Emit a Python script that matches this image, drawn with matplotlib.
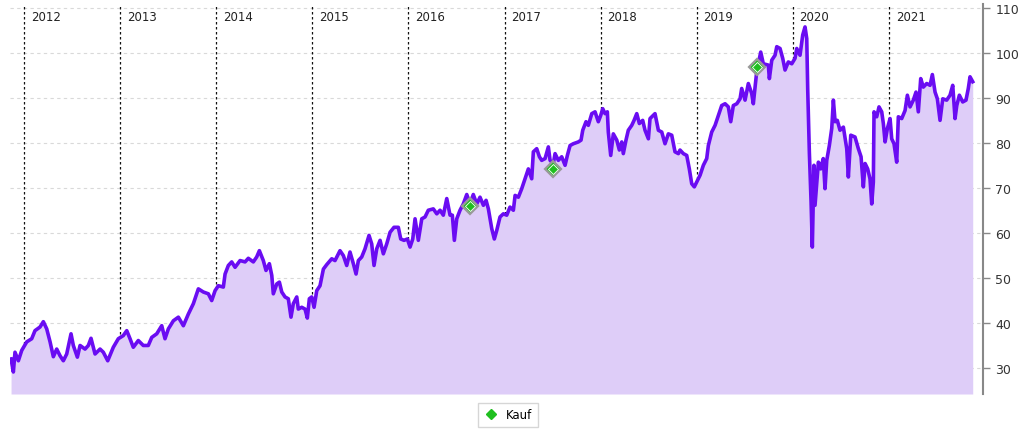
import matplotlib
matplotlib.use("Agg")
import matplotlib.pyplot as plt
from matplotlib.lines import Line2D

# ---- data (decimal years, price) ----
dates = [
    2011.865, 2011.889, 2011.906, 2011.941, 2011.976, 2012.028, 2012.080, 2012.114, 2012.166, 2012.201,
    2012.236, 2012.271, 2012.305, 2012.340, 2012.375, 2012.409, 2012.444, 2012.489, 2012.513, 2012.555,
    2012.583, 2012.635, 2012.669, 2012.697, 2012.739, 2012.791, 2012.825, 2012.871, 2012.929, 2012.981,
    2013.033, 2013.069, 2013.103, 2013.137, 2013.189, 2013.241, 2013.293, 2013.329, 2013.381, 2013.433,
    2013.467, 2013.502, 2013.554, 2013.606, 2013.658, 2013.710, 2013.762, 2013.814, 2013.866, 2013.918,
    2013.953, 2013.988, 2014.022, 2014.074, 2014.092, 2014.126, 2014.161, 2014.196, 2014.248, 2014.300,
    2014.334, 2014.386, 2014.421, 2014.449, 2014.490, 2014.518, 2014.553, 2014.578, 2014.594, 2014.630,
    2014.657, 2014.682, 2014.716, 2014.750, 2014.778, 2014.802, 2014.838, 2014.854, 2014.890, 2014.924,
    2014.948, 2014.969, 2014.994, 2015.018, 2015.046, 2015.080, 2015.115, 2015.150, 2015.202, 2015.236,
    2015.288, 2015.323, 2015.358, 2015.392, 2015.427, 2015.455, 2015.479, 2015.514, 2015.548, 2015.590,
    2015.618, 2015.642, 2015.670, 2015.705, 2015.739, 2015.774, 2015.809, 2015.850, 2015.895, 2015.920,
    2015.954, 2015.989, 2016.017, 2016.045, 2016.069, 2016.103, 2016.139, 2016.173, 2016.207, 2016.259,
    2016.295, 2016.329, 2016.363, 2016.399, 2016.433, 2016.457, 2016.478, 2016.503, 2016.537, 2016.571,
    2016.607, 2016.641, 2016.675, 2016.711, 2016.745, 2016.780, 2016.808, 2016.832, 2016.867, 2016.894,
    2016.919, 2016.953, 2016.988, 2017.023, 2017.057, 2017.092, 2017.110, 2017.144, 2017.179, 2017.213,
    2017.248, 2017.283, 2017.300, 2017.335, 2017.363, 2017.387, 2017.422, 2017.456, 2017.474, 2017.508,
    2017.526, 2017.560, 2017.595, 2017.630, 2017.654, 2017.682, 2017.716, 2017.768, 2017.796, 2017.814,
    2017.848, 2017.872, 2017.908, 2017.942, 2017.976, 2018.001, 2018.022, 2018.046, 2018.070, 2018.080,
    2018.105, 2018.132, 2018.168, 2018.195, 2018.220, 2018.236, 2018.264, 2018.288, 2018.324, 2018.348,
    2018.376, 2018.403, 2018.438, 2018.462, 2018.497, 2018.514, 2018.566, 2018.601, 2018.636, 2018.670,
    2018.705, 2018.740, 2018.774, 2018.809, 2018.826, 2018.861, 2018.896, 2018.923, 2018.948, 2018.975,
    2019.000, 2019.035, 2019.069, 2019.104, 2019.121, 2019.156, 2019.191, 2019.225, 2019.260, 2019.295,
    2019.329, 2019.354, 2019.381, 2019.417, 2019.451, 2019.468, 2019.503, 2019.537, 2019.572, 2019.589,
    2019.607, 2019.624, 2019.666, 2019.693, 2019.745, 2019.756, 2019.781, 2019.815, 2019.833, 2019.867,
    2019.895, 2019.919, 2019.953, 2019.989, 2020.023, 2020.041, 2020.075, 2020.103, 2020.127, 2020.145,
    2020.155, 2020.172, 2020.190, 2020.203, 2020.220, 2020.231, 2020.266, 2020.290, 2020.317, 2020.335,
    2020.353, 2020.380, 2020.405, 2020.422, 2020.440, 2020.463, 2020.491, 2020.526, 2020.561, 2020.578,
    2020.603, 2020.647, 2020.682, 2020.710, 2020.734, 2020.752, 2020.779, 2020.803, 2020.821, 2020.838,
    2020.845, 2020.873, 2020.897, 2020.925, 2020.942, 2020.960, 2020.984, 2021.012, 2021.029, 2021.053,
    2021.081, 2021.098, 2021.133, 2021.168, 2021.192, 2021.220, 2021.254, 2021.282, 2021.306, 2021.331,
    2021.358, 2021.393, 2021.428, 2021.452, 2021.480, 2021.504, 2021.532, 2021.560, 2021.601, 2021.636,
    2021.664, 2021.688, 2021.706, 2021.733, 2021.768, 2021.802, 2021.826, 2021.844, 2021.872,
]
prices = [
    32.0, 29.1, 33.5, 31.6, 33.9, 35.8, 36.5, 38.3, 39.1, 40.3,
    38.7, 35.8, 32.5, 34.2, 32.7, 31.6, 33.1, 37.6, 35.0, 32.4,
    35.0, 34.2, 35.0, 36.6, 33.1, 34.2, 33.5, 31.6, 34.6, 36.5,
    37.2, 38.3, 36.5, 34.6, 36.1, 35.0, 35.0, 36.8, 37.6, 39.4,
    36.5, 38.7, 40.5, 41.3, 39.4, 42.0, 44.3, 47.6, 46.9, 46.5,
    45.0, 47.2, 48.3, 48.0, 50.9, 52.8, 53.6, 52.4, 53.9, 53.6,
    54.4, 53.6, 54.7, 56.1, 53.9, 51.7, 53.2, 50.6, 46.5, 48.7,
    49.1, 46.9, 45.8, 45.4, 41.3, 44.3, 45.8, 43.1, 43.5, 43.1,
    41.1, 45.4, 45.8, 43.5, 47.2, 48.3, 52.0, 53.0, 54.3, 53.9,
    56.1, 55.0, 52.8, 55.8, 53.2, 50.9, 53.9, 54.7, 56.5, 59.5,
    57.6, 52.8, 56.5, 58.4, 55.4, 57.6, 60.2, 61.3, 61.3, 58.7,
    58.4, 58.7, 56.9, 58.7, 63.2, 58.4, 63.2, 63.6, 65.1, 65.4,
    64.3, 65.1, 64.0, 67.7, 64.0, 64.0, 58.4, 63.2, 65.1, 66.5,
    68.6, 66.5, 68.6, 66.5, 68.0, 66.2, 67.3, 65.4, 61.0, 58.7,
    60.6, 63.6, 64.3, 64.0, 65.8, 65.1, 68.4, 68.0, 69.9, 72.1,
    74.3, 72.1, 78.1, 78.8, 77.0, 76.2, 76.6, 79.2, 76.2, 75.5,
    77.7, 76.2, 77.0, 75.1, 77.3, 79.5, 79.9, 80.3, 80.7, 82.9,
    84.8, 84.0, 86.6, 87.0, 84.8, 86.2, 87.7, 86.6, 87.0, 82.5,
    77.3, 82.1, 80.7, 78.5, 80.3, 77.7, 80.7, 82.9, 84.0, 85.1,
    86.6, 84.4, 85.1, 82.9, 81.0, 85.5, 86.6, 82.9, 82.5, 79.9,
    82.1, 81.8, 78.1, 77.7, 78.5, 77.7, 77.3, 74.3, 71.0, 70.3,
    71.4, 72.9, 75.1, 76.6, 79.5, 82.5, 84.0, 86.2, 88.4, 88.8,
    88.1, 84.8, 88.4, 88.8, 89.9, 92.2, 89.6, 93.3, 91.1, 88.8,
    92.5, 95.9, 100.3, 97.7, 97.4, 94.4, 98.5, 99.6, 101.5, 101.1,
    98.9, 96.3, 98.1, 97.7, 98.9, 101.1, 99.6, 104.1, 105.9, 103.3,
    92.0, 78.0, 66.9, 56.9, 75.1, 66.2, 75.8, 74.3, 76.6, 69.9,
    76.2, 79.5, 83.3, 89.6, 84.8, 85.1, 82.9, 83.6, 78.8, 72.5,
    81.8, 81.4, 78.8, 77.0, 70.3, 75.5, 74.3, 72.1, 66.5, 71.4,
    87.0, 85.9, 88.1, 87.0, 84.4, 80.3, 83.3, 85.5, 81.0, 79.9,
    75.8, 85.9, 85.5, 87.3, 90.7, 88.1, 89.6, 91.4, 87.0, 94.4,
    92.5, 93.3, 92.9, 95.3, 91.4, 89.9, 85.1, 89.9, 89.6, 90.7,
    92.9, 85.5, 88.4, 90.7, 89.2, 89.6, 92.2, 94.8, 93.7,
]
buy_dates = [2016.641, 2017.508, 2019.627]
buy_prices = [66.1, 74.2, 97.0]
years = [2012, 2013, 2014, 2015, 2016, 2017, 2018, 2019, 2020, 2021]
yticks = [30, 40, 50, 60, 70, 80, 90, 100, 110]

line_color = "#6a0cf2"
fill_color = "#decdf8"

fig = plt.figure(figsize=(10.24, 4.31), dpi=100)
ax = fig.add_axes([10 / 1024, (431 - 395) / 431, (983 - 10) / 1024, (395 - 5) / 431])

ymin, ymax = 24.2, 111.0
ax.set_ylim(ymin, ymax)
ax.set_xlim(2011.854, 2021.979)

# grid
for v in yticks:
    ax.axhline(v, color="#d9d9d9", lw=0.8, ls=(0, (3, 3)), zorder=1)
for yr in years:
    ax.axvline(yr, ymin=0, ymax=(110.6 - ymin) / (ymax - ymin), color="#111111", lw=0.9,
               ls=(0, (2, 2)), zorder=1)
    ax.text(yr + 0.07, 108.2, str(yr), fontsize=8.5, color="#222222", va="center", ha="left",
            family="DejaVu Sans")

ax.fill_between(dates, prices, ymin, color=fill_color, lw=0, zorder=2)
ax.plot(dates, prices, color=line_color, lw=2.6, zorder=3, solid_joinstyle="round")

ax.plot(buy_dates, buy_prices, ls="none", marker="D", markersize=8, markerfacecolor="#1fbf1f",
        markeredgecolor="#999999", markeredgewidth=1.6, zorder=5)
ax.plot(buy_dates, buy_prices, ls="none", marker="D", markersize=5, markerfacecolor="#1fbf1f",
        markeredgecolor="white", markeredgewidth=0.6, zorder=6)

# axes styling
for s in ["left", "top", "bottom"]:
    ax.spines[s].set_visible(False)
ax.spines["right"].set_color("#888888")
ax.spines["right"].set_linewidth(1.5)
ax.yaxis.tick_right()
ax.set_yticks(yticks)
ax.set_yticklabels([str(v) for v in yticks])
ax.tick_params(axis="y", direction="out", length=5, width=1, color="#888888",
               labelsize=9, labelcolor="#333333", pad=4)
ax.set_xticks([])

handle = Line2D([], [], ls="none", marker="D", markersize=5, markerfacecolor="#1fbf1f",
                markeredgecolor="#1fbf1f")
leg = fig.legend([handle], ["Kauf"], loc="center", bbox_to_anchor=(508 / 1024, (431 - 416) / 431),
                 frameon=True, fancybox=False, fontsize=8.5, handlelength=1.2, handletextpad=0.6,
                 borderpad=0.5)
leg.get_frame().set_edgecolor("#cccccc")
leg.get_frame().set_linewidth(1.0)

fig.savefig("out.png", dpi=100)
